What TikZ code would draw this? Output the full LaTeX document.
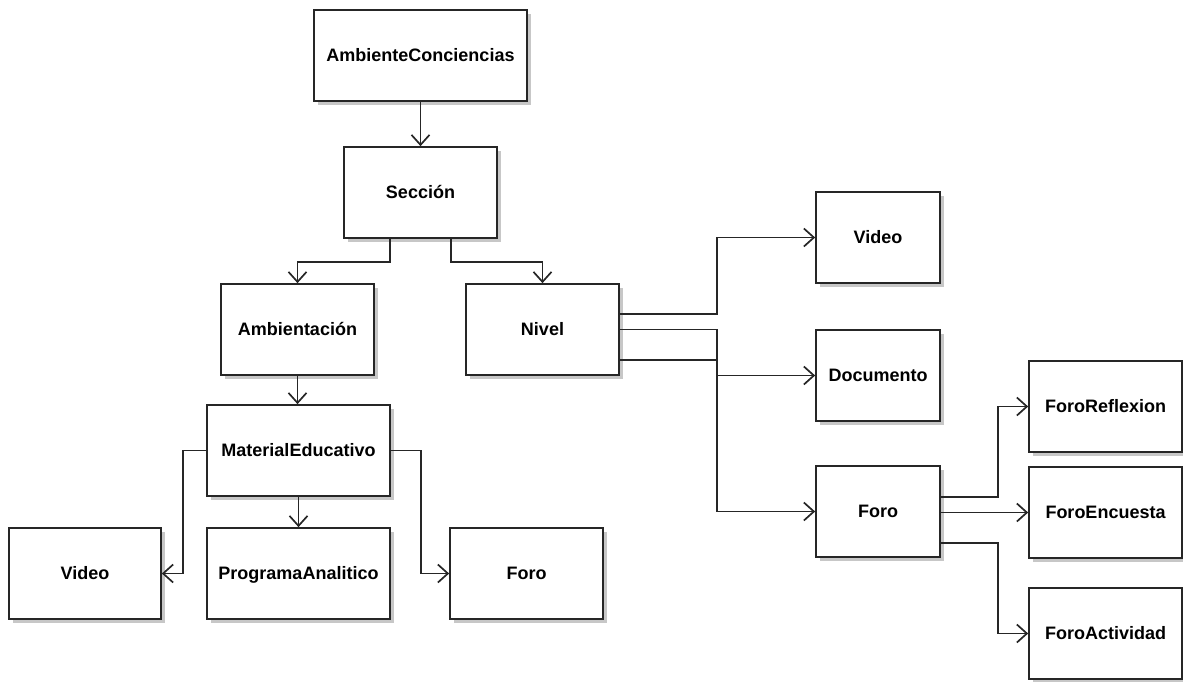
\documentclass[tikz,border=0pt]{standalone}
\usepackage{fontspec}
\setmainfont{Liberation Sans}
\usetikzlibrary{arrows.meta,shadows}
\begin{document}
\begin{tikzpicture}[x=1pt,y=-1pt,
  box/.style={draw=black!85, line width=1.7pt, fill=white, inner sep=0pt,
    minimum height=91pt, minimum width=153pt, text height=12.9pt, text depth=0pt,
    font=\bfseries\fontsize{18}{21}\selectfont,
    general shadow={fill=black!22, shadow xshift=4pt, shadow yshift=-4pt}},
  arr/.style={draw=black!85, line width=1.7pt, -{Straight Barb[length=10pt,width=18pt,line width=1.7pt]}}]
\useasboundingbox (0,0) rectangle (1183,681);
\fill[white] (0,0) rectangle (1183,681);
\node[box, minimum width=213pt] (ac) at (420.5,55.5) {AmbienteConciencias};
\node[box] (sec) at (420.5,192.5) {Sección};
\node[box] (amb) at (297.5,329.5) {Ambientación};
\node[box] (niv) at (542.5,329.5) {Nivel};
\node[box, minimum width=183pt] (mat) at (298.5,450.5) {MaterialEducativo};
\node[box, minimum width=152pt] (vid1) at (85,573.5) {Video};
\node[box, minimum width=183pt] (prog) at (298.5,573.5) {ProgramaAnalitico};
\node[box] (foro1) at (526.5,573.5) {Foro};
\node[box, minimum width=124pt] (vid2) at (878,237.5) {Video};
\node[box, minimum width=124pt] (doc) at (878,375.5) {Documento};
\node[box, minimum width=124pt] (foro2) at (878,511.5) {Foro};
\node[box] (fr) at (1105.5,406.5) {ForoReflexion};
\node[box] (fe) at (1105.5,512.5) {ForoEncuesta};
\node[box] (fa) at (1105.5,633.5) {ForoActividad};
\coordinate (j1) at (717,0);
\coordinate (j2) at (998,0);
\draw[arr] (ac.south) -- (sec.north);
\draw[arr] ([xshift=-30.5pt]sec.south) -- ++(0,23) -| (amb.north);
\draw[arr] ([xshift=30.5pt]sec.south) -- ++(0,23) -| (niv.north);
\draw[arr] (amb.south) -- (amb.south |- mat.north);
\draw[arr] (mat.west) -- ++(-23,0) |- (vid1.east);
\draw[arr] (mat.south) -- (prog.north);
\draw[arr] (mat.east) -- ++(30,0) |- (foro1.west);
\draw[arr] ([yshift=15.5pt]niv.east) -- ([yshift=15.5pt]niv.east -| j1) |- (vid2.west);
\draw[arr] (niv.east) -- (niv.east -| j1) |- (doc.west);
\draw[arr] ([yshift=-30.5pt]niv.east) -- ([yshift=-30.5pt]niv.east -| j1) |- (foro2.west);
\draw[arr] ([yshift=14.5pt]foro2.east) -- ([yshift=14.5pt]foro2.east -| j2) |- (fr.west);
\draw[arr] (foro2.east |- fe.west) -- (fe.west);
\draw[arr] ([yshift=-31.5pt]foro2.east) -- ([yshift=-31.5pt]foro2.east -| j2) |- (fa.west);
\end{tikzpicture}
\end{document}
